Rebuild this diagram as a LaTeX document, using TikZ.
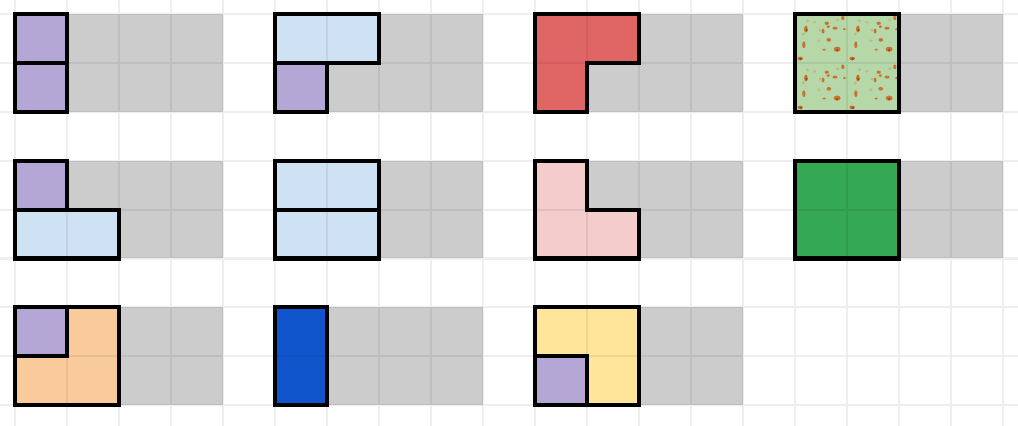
\documentclass[tikz,border=0pt]{standalone}
\usepackage{tikz}
\definecolor{lavender}{HTML}{B4A7D6}
\definecolor{paleblue}{HTML}{CFE2F3}
\definecolor{redpiece}{HTML}{E06666}
\definecolor{pinkpiece}{HTML}{F4CCCC}
\definecolor{grasspiece}{HTML}{B6D7A8}
\definecolor{greenpiece}{HTML}{34A853}
\definecolor{orangepiece}{HTML}{F9CB9C}
\definecolor{bluepiece}{HTML}{1155CC}
\definecolor{yellowpiece}{HTML}{FFE599}
\definecolor{speck}{RGB}{205, 105, 35}
\definecolor{speckdark}{RGB}{140, 60, 20}
\tikzset{
    board/.style={fill=black!20},
    piece/.style={draw=black, line width=2.2pt, line join=miter},
    gridline/.style={draw=black, opacity=0.065, line width=1.1pt},
    dot/.style={fill=speck, opacity=0.9},
    darkdot/.style={fill=speckdark, opacity=0.8},
    faintdot/.style={fill=speck, opacity=0.25}
}

\begin{document}
\begin{tikzpicture}[x=1cm, y=-0.9404cm]
    \useasboundingbox (-0.2885,-0.2863) rectangle (19.2885,8.405);

    % grey boards
    \foreach \r in {0,3,6}
        \foreach \c in {0,5,10,15} {
            \ifnum\r=6 \ifnum\c=15 \else
                \fill[board] (\c,\r) rectangle (\c+4,\r+2);
            \fi \else
                \fill[board] (\c,\r) rectangle (\c+4,\r+2);
            \fi
        }

    % first row
    \filldraw[piece, fill=lavender] (0,0) rectangle (1,1);
    \filldraw[piece, fill=lavender] (0,1) rectangle (1,2);
    \filldraw[piece, fill=paleblue] (5,0) rectangle (7,1);
    \filldraw[piece, fill=lavender] (5,1) rectangle (6,2);
    \filldraw[piece, fill=redpiece] (10,0) -- (12,0) -- (12,1) -- (11,1) -- (11,2) -- (10,2) -- cycle;
    \fill[grasspiece] (15,0) rectangle (17,2);
    \foreach \cx/\cy in {15/0,16/0,15/1,16/1} {
        \foreach \u/\v/\a/\b in {0.21/0.31/1.0/1.9, 0.61/0.19/1.2/0.9, 0.64/0.26/1.0/0.8,
                0.54/0.35/0.8/1.3, 0.77/0.29/1.4/0.8, 0.95/0.31/0.9/0.6, 0.92/0.08/0.9/1.3,
                0.17/0.63/0.9/1.9, 0.65/0.53/1.3/1.0, 0.56/0.73/1.0/0.6, 0.81/0.72/1.9/1.4,
                0.10/0.91/1.5/1.0}
            \fill[dot] (\cx+\u,\cy+\v) ellipse (\a pt and \b pt);
        \foreach \u/\v in {0.81/0.74, 0.11/0.92, 0.22/0.33}
            \fill[darkdot] (\cx+\u,\cy+\v) circle (0.7pt);
        \foreach \u/\v in {0.24/0.14, 0.38/0.17, 0.48/0.33, 0.16/0.41, 0.46/0.55, 0.82/0.12}
            \fill[faintdot] (\cx+\u,\cy+\v) circle (0.9pt);
    }
    \draw[piece] (15,0) rectangle (17,2);

    % second row
    \filldraw[piece, fill=lavender] (0,3) rectangle (1,4);
    \filldraw[piece, fill=paleblue] (0,4) rectangle (2,5);
    \filldraw[piece, fill=paleblue] (5,3) rectangle (7,4);
    \filldraw[piece, fill=paleblue] (5,4) rectangle (7,5);
    \filldraw[piece, fill=pinkpiece] (10,3) -- (11,3) -- (11,4) -- (12,4) -- (12,5) -- (10,5) -- cycle;
    \filldraw[piece, fill=greenpiece] (15,3) rectangle (17,5);

    % third row
    \filldraw[piece, fill=orangepiece] (1,6) -- (2,6) -- (2,8) -- (0,8) -- (0,7) -- (1,7) -- cycle;
    \filldraw[piece, fill=lavender] (0,6) rectangle (1,7);
    \filldraw[piece, fill=bluepiece] (5,6) rectangle (6,8);
    \filldraw[piece, fill=yellowpiece] (10,6) -- (12,6) -- (12,8) -- (11,8) -- (11,7) -- (10,7) -- cycle;
    \filldraw[piece, fill=lavender] (10,7) rectangle (11,8);

    % light grid over everything
    \draw[gridline]
        \foreach \i in {0,...,19} {(\i,-1) -- (\i,9)}
        \foreach \j in {0,...,8} {(-1,\j) -- (20,\j)};
\end{tikzpicture}
\end{document}
